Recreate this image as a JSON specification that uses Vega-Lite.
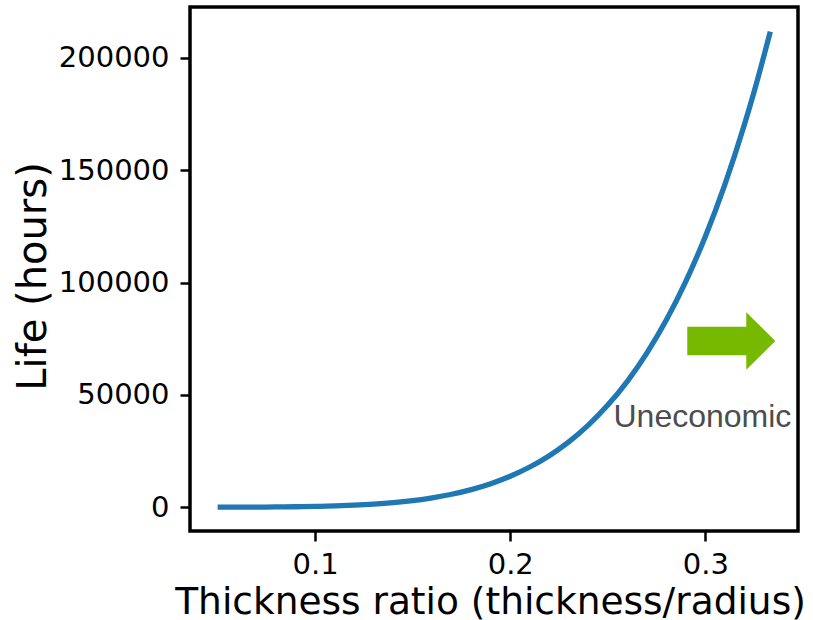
{
  "$schema": "https://vega.github.io/schema/vega-lite/v6.json",
  "width": 608,
  "height": 524,
  "autosize": {"type": "none"},
  "padding": {"left": 190, "top": 7, "right": 15, "bottom": 89},
  "background": "white",
  "config": {
    "view": {"stroke": "black", "strokeWidth": 3.5},
    "axis": {"grid": false, "domain": false, "tickColor": "black", "tickWidth": 2.5, "tickSize": 10, "labelFont": "DejaVu Sans", "labelFontSize": 29, "labelColor": "black", "titleFont": "DejaVu Sans", "titleFontWeight": "normal", "titleColor": "black"}
  },
  "datasets": {
    "curve": [
      {"ratio": 0.05, "life": 8},
      {"ratio": 0.06, "life": 22},
      {"ratio": 0.07, "life": 50},
      {"ratio": 0.08, "life": 102},
      {"ratio": 0.09, "life": 192},
      {"ratio": 0.10, "life": 338},
      {"ratio": 0.11, "life": 563},
      {"ratio": 0.12, "life": 896},
      {"ratio": 0.13, "life": 1375},
      {"ratio": 0.14, "life": 2042},
      {"ratio": 0.15, "life": 2957},
      {"ratio": 0.16, "life": 4175},
      {"ratio": 0.17, "life": 5774},
      {"ratio": 0.18, "life": 7840},
      {"ratio": 0.19, "life": 10470},
      {"ratio": 0.20, "life": 13780},
      {"ratio": 0.21, "life": 17890},
      {"ratio": 0.22, "life": 22940},
      {"ratio": 0.23, "life": 29090},
      {"ratio": 0.24, "life": 36530},
      {"ratio": 0.25, "life": 45450},
      {"ratio": 0.26, "life": 56050},
      {"ratio": 0.27, "life": 68620},
      {"ratio": 0.28, "life": 83330},
      {"ratio": 0.29, "life": 100540},
      {"ratio": 0.30, "life": 120530},
      {"ratio": 0.31, "life": 143650},
      {"ratio": 0.32, "life": 170280},
      {"ratio": 0.325, "life": 185000},
      {"ratio": 0.3333, "life": 211720}
    ],
    "arrow": [{"ratio": 0.3133, "life": 74000}],
    "note": [{"ratio": 0.2985, "life": 35600, "text": "Uneconomic"}]
  },
  "layer": [
    {
      "data": {"name": "curve"},
      "mark": {"type": "line", "color": "#1f77b4", "strokeWidth": 5.3, "interpolate": "monotone", "clip": true},
      "encoding": {
        "x": {"field": "ratio", "type": "quantitative", "scale": {"domain": [0.035833, 0.3475], "nice": false, "zero": false},
              "axis": {"values": [0.1, 0.2, 0.3], "format": ".1f", "labelPadding": 9, "title": "Thickness ratio (thickness/radius)", "titleFontSize": 37.5, "titleX": 300, "titleY": 82, "titleBaseline": "alphabetic", "titleAlign": "center", "titleAnchor": null}},
        "y": {"field": "life", "type": "quantitative", "scale": {"domain": [-10600, 222700], "nice": false, "zero": false},
              "axis": {"values": [0, 50000, 100000, 150000, 200000], "format": "d", "labelPadding": 11, "title": "Life (hours)", "titleFontSize": 40, "titleAngle": 270, "titleX": -145, "titleY": 269, "titleBaseline": "alphabetic", "titleAlign": "center", "titleAnchor": null}}
      }
    },
    {
      "data": {"name": "arrow"},
      "mark": {"type": "point", "shape": "M-44,-14.3L15,-14.3L15,-28.7L44,0L15,28.7L15,14.3L-44,14.3Z", "size": 4, "filled": true, "color": "#76b900", "opacity": 1, "strokeWidth": 0},
      "encoding": {
        "x": {"field": "ratio", "type": "quantitative"},
        "y": {"field": "life", "type": "quantitative"}
      }
    },
    {
      "data": {"name": "note"},
      "mark": {"type": "text", "font": "Liberation Sans", "fontSize": 32, "color": "#4d4d4d", "align": "center", "baseline": "alphabetic"},
      "encoding": {
        "x": {"field": "ratio", "type": "quantitative"},
        "y": {"field": "life", "type": "quantitative"},
        "text": {"field": "text"}
      }
    }
  ]
}
